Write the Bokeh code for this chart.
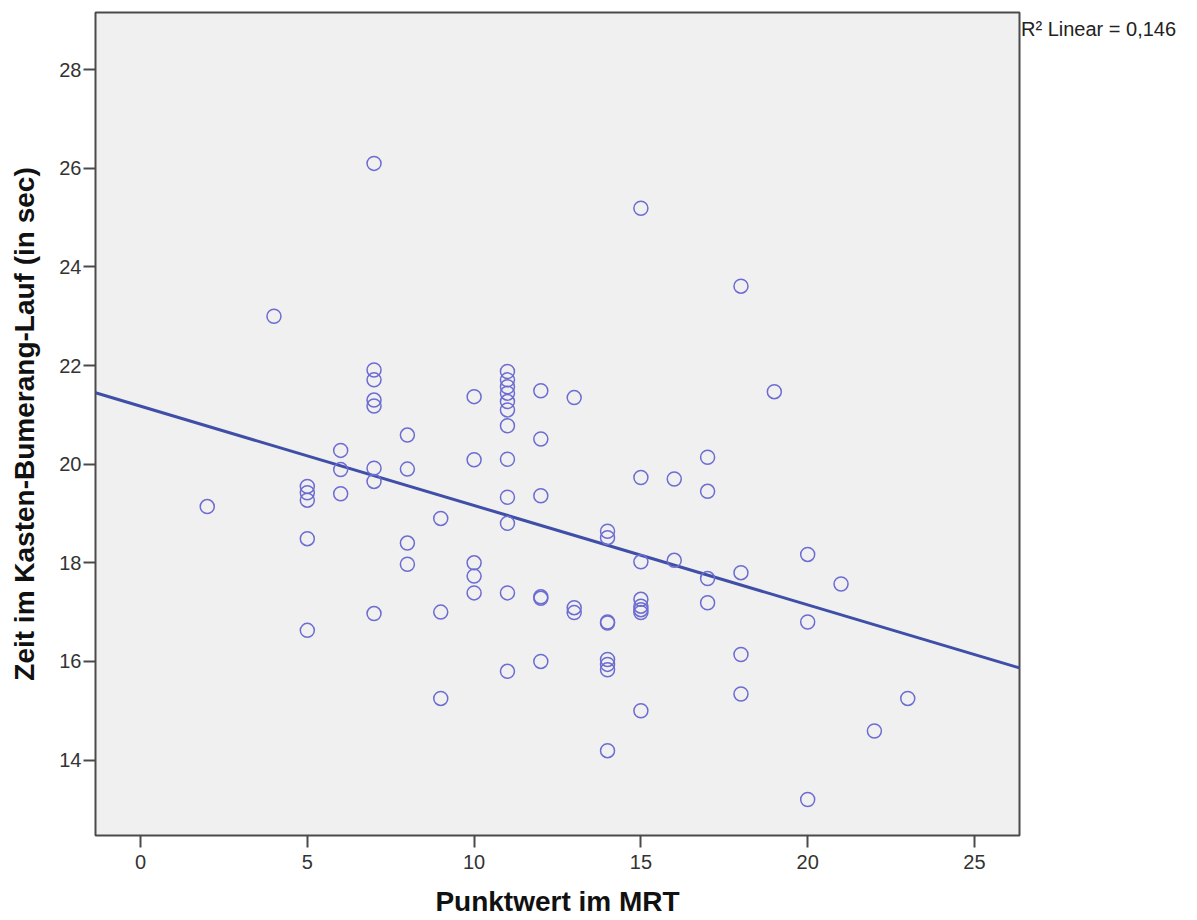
import numpy as np
from bokeh.plotting import figure
from bokeh.models import Range1d, FixedTicker, Legend, LegendItem, ColumnDataSource
from bokeh.embed import file_html
from bokeh.resources import INLINE

# Data: MRT score (x) and time in seconds (y)
mrt_score = (
    [2] + [4] + [5] * 5 + [6] * 3 + [7] * 8 + [8] * 4 + [9] * 3 + [10] * 5 +
    [11] * 12 + [12] * 6 + [13] * 3 + [14] * 8 + [15] * 8 + [16] * 2 + [17] * 4 +
    [18] * 4 + [19] + [20] * 3 + [21] + [22] + [23]
)
time_sec = [
    19.14,
    23.00,
    19.55, 19.42, 19.27, 18.49, 16.63,
    20.28, 19.89, 19.40,
    26.10, 21.91, 21.71, 21.30, 21.18, 19.92, 19.65, 16.97,
    20.59, 19.90, 18.40, 17.97,
    18.90, 17.00, 15.25,
    21.37, 20.09, 18.00, 17.73, 17.39,
    21.88, 21.71, 21.57, 21.44, 21.27, 21.10, 20.78, 20.10, 19.33, 18.80, 17.39, 15.80,
    21.49, 20.51, 19.36, 17.31, 17.28, 16.00,
    21.35, 17.09, 16.99,
    18.64, 18.51, 16.80, 16.78, 16.04, 15.94, 15.83, 14.19,
    25.19, 19.73, 18.02, 17.26, 17.12, 17.05, 16.99, 15.00,
    19.70, 18.05,
    20.14, 19.45, 17.68, 17.19,
    23.61, 17.80, 16.14, 15.34,
    21.47,
    18.17, 16.80, 13.20,
    17.57,
    14.59,
    15.25,
]
x_ticks = [0, 5, 10, 15, 20, 25]
y_ticks = [14, 16, 18, 20, 22, 24, 26, 28]
x_label = "Punktwert im MRT"
y_label = "Zeit im Kasten-Bumerang-Lauf (in sec)"
r2_text = "R\u00b2 Linear = 0,146"

X_MIN, X_MAX = -1.35, 26.35
Y_MIN, Y_MAX = 12.47, 29.16

FONT = "Liberation Sans"

p = figure(
    output_backend="svg", toolbar_location=None,
    frame_width=924, frame_height=823,
    min_border_left=95, min_border_top=12, min_border_right=170, min_border_bottom=82,
    x_range=Range1d(X_MIN, X_MAX), y_range=Range1d(Y_MIN, Y_MAX),
    background_fill_color="#F0F0F0", border_fill_color="white",
)
p.outline_line_color = "#4a4a4a"
p.outline_line_width = 2
p.grid.visible = False

for ax in (p.xaxis, p.yaxis):
    ax.axis_line_color = None
    ax.major_tick_line_color = "#4a4a4a"
    ax.major_tick_line_width = 2
    ax.major_tick_in = 0
    ax.major_tick_out = 12
    ax.minor_tick_line_color = None
    ax.major_label_text_font = FONT
    ax.major_label_text_font_size = "20px"
    ax.major_label_text_color = "#333333"
    ax.axis_label_text_font = FONT
    ax.axis_label_text_font_size = "28px"
    ax.axis_label_text_font_style = "bold"
    ax.axis_label_text_color = "#111111"

p.xaxis.ticker = FixedTicker(ticks=x_ticks)
p.yaxis.ticker = FixedTicker(ticks=y_ticks)
p.xaxis.axis_label = x_label
p.yaxis.axis_label = y_label
p.xaxis.major_label_standoff = 7
p.yaxis.major_label_standoff = 2
p.xaxis.axis_label_standoff = 14
p.yaxis.axis_label_standoff = 16

# Linear fit
slope, intercept = np.polyfit(mrt_score, time_sec, 1)
fx = [X_MIN, X_MAX]
fy = [intercept + slope * v for v in fx]
p.line(fx, fy, line_color="#3F4FA8", line_width=3)

src = ColumnDataSource(dict(x=mrt_score, y=time_sec))
p.scatter("x", "y", source=src, marker="circle", size=14, fill_color=None,
          line_color="#6C6CD2", line_width=1.5)

# R² note placed in the right-hand panel via an invisible legend entry
dummy = p.line(x=[], y=[], line_alpha=0)
legend = Legend(
    items=[LegendItem(label=r2_text, renderers=[dummy])],
    location="top_left", orientation="vertical",
    margin=0, padding=0, spacing=0,
    glyph_width=0, glyph_height=34, label_height=34, label_width=160, label_standoff=2,
    label_text_font=FONT, label_text_font_size="20px", label_text_color="#222222",
    border_line_color=None, background_fill_alpha=0,
)
p.add_layout(legend, "right")

open("out.html", "w").write(file_html(p, INLINE))
